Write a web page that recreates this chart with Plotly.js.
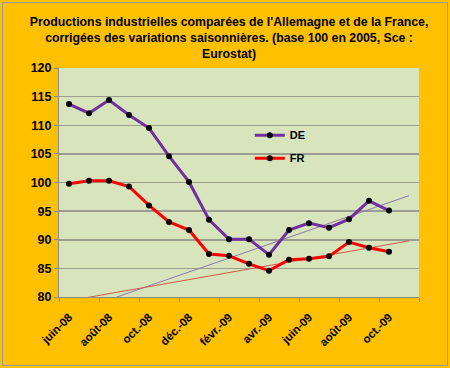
<!DOCTYPE html>
<html>
<head>
<meta charset="utf-8">
<script src="https://cdn.plot.ly/plotly-3.0.1.min.js"></script>
<style>
  html, body { margin: 0; padding: 0; background: #FFC000; }
  #wrap { position: relative; width: 450px; height: 368px; }
  #chart { width: 450px; height: 368px; }
  #frame { position: absolute; left: 2px; top: 2px; width: 444px; height: 362px;
           border: 1px solid #9a9a9a; pointer-events: none; }
</style>
</head>
<body>
<div id="wrap"><div id="chart"></div><div id="frame"></div></div>
<script>
// Months (category axis), including nov.-09 which has no data
var months = ['juin-08','juil.-08','août-08','sept.-08','oct.-08','nov.-08','déc.-08',
              'janv.-09','févr.-09','mars-09','avr.-09','mai-09','juin-09','juil.-09',
              'août-09','sept.-09','oct.-09','nov.-09'];
// Industrial production index (base 100 in 2005)
var DE = [113.7, 112.1, 114.4, 111.8, 109.5, 104.6, 100.1, 93.5, 90.1, 90.1,
          87.4, 91.7, 92.9, 92.1, 93.6, 96.8, 95.1];
var FR = [99.8, 100.3, 100.3, 99.3, 96.0, 93.1, 91.7, 87.5, 87.2, 85.8,
          84.6, 86.5, 86.7, 87.1, 89.6, 88.6, 87.9];
// Linear trend lines: values at first and last month
var trendMonths = ['juin-08', 'nov.-09'];
var trendDE = [77.1, 97.7];
var trendFR = [79.35, 89.8];
// Tick labels shown (every two months)
var tickLabels = ['juin-08','août-08','oct.-08','déc.-08','févr.-09','avr.-09','juin-09','août-09','oct.-09'];

var idx = function (m) { return months.indexOf(m); };
var xData = DE.map(function (_, i) { return i; });
var xTrend = trendMonths.map(idx);

var traces = [
  { x: xTrend, y: trendDE, mode: 'lines', showlegend: false, hoverinfo: 'skip',
    line: { color: '#8a7aa6', width: 1 } },
  { x: xTrend, y: trendFR, mode: 'lines', showlegend: false, hoverinfo: 'skip',
    line: { color: '#cc5a4c', width: 1 } },
  { x: xData, y: DE, name: '<b>DE</b>', mode: 'lines+markers', legendgroup: 'a',
    line: { color: '#7030A0', width: 3 },
    marker: { color: '#000000', size: 6 } },
  { x: xData, y: FR, name: '<b>FR</b>', mode: 'lines+markers', legendgroup: 'b',
    line: { color: '#FF0000', width: 3 },
    marker: { color: '#000000', size: 6 } }
];

var layout = {
  width: 450, height: 368,
  margin: { l: 59, r: 31, t: 68, b: 71 },
  paper_bgcolor: '#FFC000',
  plot_bgcolor: '#D8E4BC',
  font: { family: 'Arial, "Liberation Sans", sans-serif', color: '#000000' },
  title: {
    text: "<b>Productions industrielles comparées de l'Allemagne et de la France,<br>corrigées des variations saisonnières. (base 100 en 2005, Sce :<br>Eurostat)</b>",
    font: { size: 12.3, color: '#000000' },
    x: 0.509, xanchor: 'center', xref: 'container',
    y: 0.929, yanchor: 'top', yref: 'container'
  },
  xaxis: {
    type: 'linear',
    range: [-0.5, months.length - 0.5],
    tickmode: 'array',
    tickvals: tickLabels.map(idx),
    ticktext: tickLabels.map(function (t) { return '<b>' + t + '</b>'; }),
    tickangle: -45,
    ticks: '',
    ticklabelstandoff: 8,
    tickfont: { size: 11.5, color: '#000000' },
    minor: { tick0: -0.5, dtick: 2, ticks: 'outside', ticklen: 4, tickcolor: '#8c8c8c', tickwidth: 1, showgrid: false },
    showgrid: false, zeroline: false,
    showline: true, linecolor: '#8c8c8c', linewidth: 1
  },
  yaxis: {
    range: [80, 120],
    dtick: 5, tick0: 80,
    ticks: 'outside', ticklen: 4, tickcolor: '#8c8c8c',
    tickfont: { size: 12.5, color: '#000000' },
    tickprefix: '<b>', ticksuffix: '</b>',
    showgrid: true, gridcolor: '#9a9d8f', gridwidth: 1.5,
    zeroline: false,
    showline: true, linecolor: '#8c8c8c', linewidth: 1
  },
  // background patch of the legend box (hides the gridline behind the legend)
  shapes: [{
    type: 'rect', xref: 'paper', yref: 'paper', layer: 'between',
    x0: 0.544, x1: 0.75, y0: 0.58, y1: 0.735,
    fillcolor: '#D8E4BC', line: { width: 0 }
  }],
  legend: {
    x: 0.53, xanchor: 'left', y: 0.77, yanchor: 'top',
    bgcolor: 'rgba(0,0,0,0)', borderwidth: 0,
    font: { size: 11, color: '#000000' },
    traceorder: 'grouped', tracegroupgap: 4,
    itemwidth: 30
  },
  showlegend: true
};

Plotly.newPlot('chart', traces, layout, { displayModeBar: false, staticPlot: true });
</script>
</body>
</html>
